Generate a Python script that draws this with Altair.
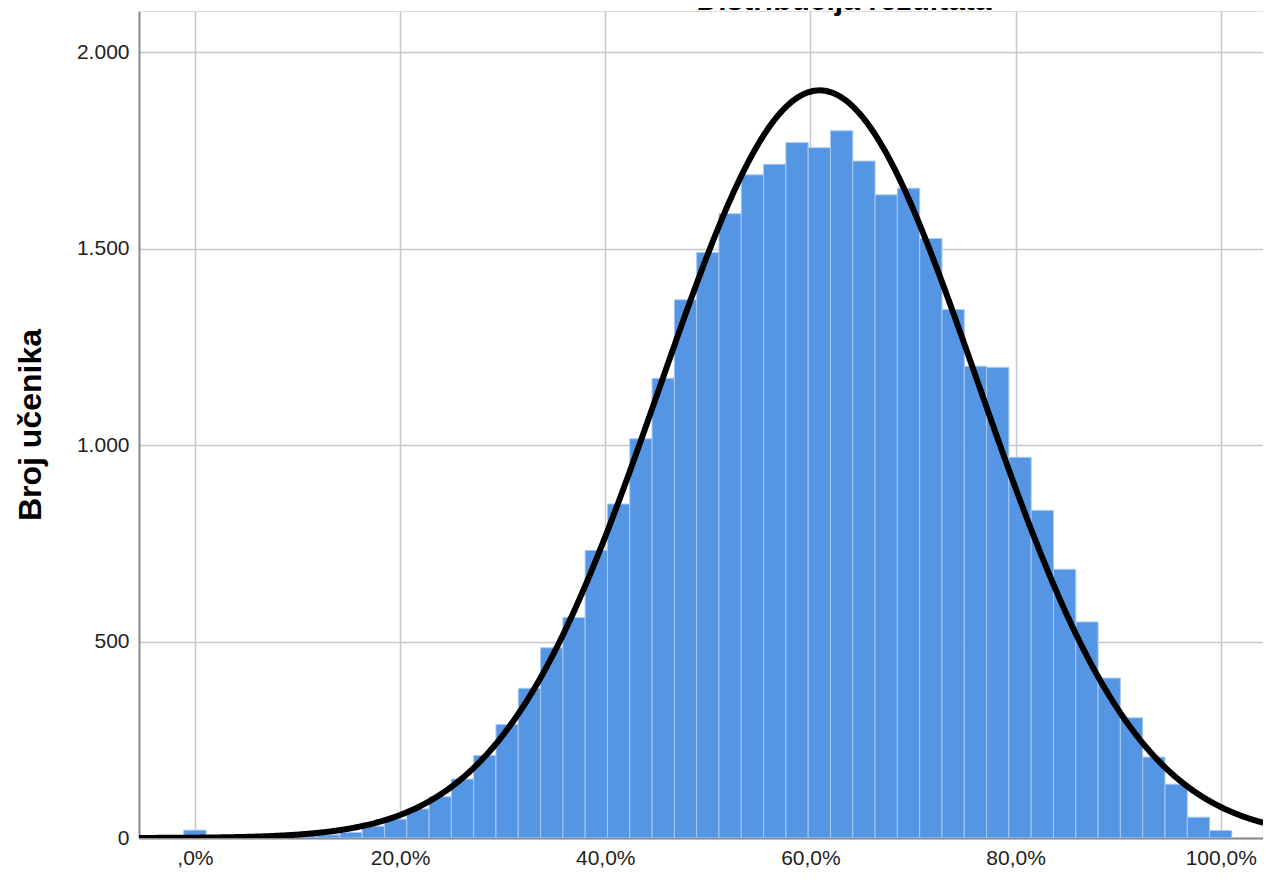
import altair as alt
import pandas as pd

# Histogram: number of students per score (points out of 46 -> percent)
max_points = 46
points = list(range(0, 47))
counts = [20, 0, 1, 2, 3, 5, 8, 14, 30, 48,
          74, 105, 150, 210, 289, 381, 484, 561, 732, 850,
          1016, 1170, 1370, 1490, 1589, 1688, 1715, 1770, 1757, 1800,
          1723, 1637, 1654, 1526, 1345, 1201, 1198, 969, 834, 684,
          550, 407, 306, 206, 137, 53, 19]

# Fitted normal curve parameters
curve_mean = 60.9
curve_sd = 15.5
curve_peak = 1903

x_ticks = [0, 20, 40, 60, 80, 100]
y_ticks = [0, 500, 1000, 1500, 2000]
x_domain = [-5.45, 104.12]
y_domain = [0, 2105]

df = pd.DataFrame({"points": points, "count": counts})

FONT = "Liberation Sans"

xscale = alt.Scale(domain=x_domain, nice=False, zero=False)
yscale = alt.Scale(domain=y_domain, nice=False)

xaxis = alt.Axis(
    values=x_ticks,
    labelExpr="datum.value == 0 ? ',0%' : replace(format(datum.value, '.1f'), '.', ',') + '%'",
    grid=True, gridColor="#c8c8c8", gridWidth=1.5,
    domainColor="#8a8a8a", domainWidth=2,
    ticks=False, labelFontSize=21, labelFont=FONT, labelColor="#222222",
    labelPadding=9, title=None,
)
yaxis = alt.Axis(
    values=y_ticks,
    labelExpr="replace(format(datum.value, ','), ',', '.')",
    grid=True, gridColor="#c8c8c8", gridWidth=1.5,
    domainColor="#8a8a8a", domainWidth=2,
    ticks=False, labelFontSize=21, labelFont=FONT, labelColor="#222222",
    labelPadding=10,
    title="Broj učenika", titleFontSize=32, titleFont=FONT, titleFontWeight="bold",
    titleColor="#000000", titlePadding=29,
)

bars = alt.Chart(df).transform_calculate(
    x0=f"(datum.points - 0.5) * 100 / {max_points}",
    x1=f"(datum.points + 0.5) * 100 / {max_points}",
).mark_bar(color="#5596e4", stroke="#a9c9f1", strokeWidth=1, clip=True).encode(
    x=alt.X("x0:Q", scale=xscale, axis=xaxis),
    x2="x1:Q",
    y=alt.Y("count:Q", scale=yscale, axis=yaxis),
    y2=alt.datum(0),
)

curve = alt.Chart(alt.sequence(-5.45, 104.2, 0.1, as_="pct")).transform_calculate(
    dens=f"{curve_peak} * exp(-0.5 * pow((datum.pct - {curve_mean}) / {curve_sd}, 2))"
).mark_line(color="#000000", strokeWidth=6, clip=True).encode(
    x=alt.X("pct:Q", scale=xscale),
    y=alt.Y("dens:Q", scale=yscale),
)

chart = alt.layer(bars, curve).properties(
    width=1124,
    height=827,
    padding={"left": 131, "top": 3, "right": 0, "bottom": 30},
    autosize="none",
    title=alt.Title("Distribucija rezultata", fontSize=30, fontWeight="bold",
                    font=FONT, color="#000000", anchor="middle", dx=143, offset=-5),
).configure_view(stroke=None).configure(background="white")

chart.save("out.html", embed_options={"renderer": "svg", "actions": False})
